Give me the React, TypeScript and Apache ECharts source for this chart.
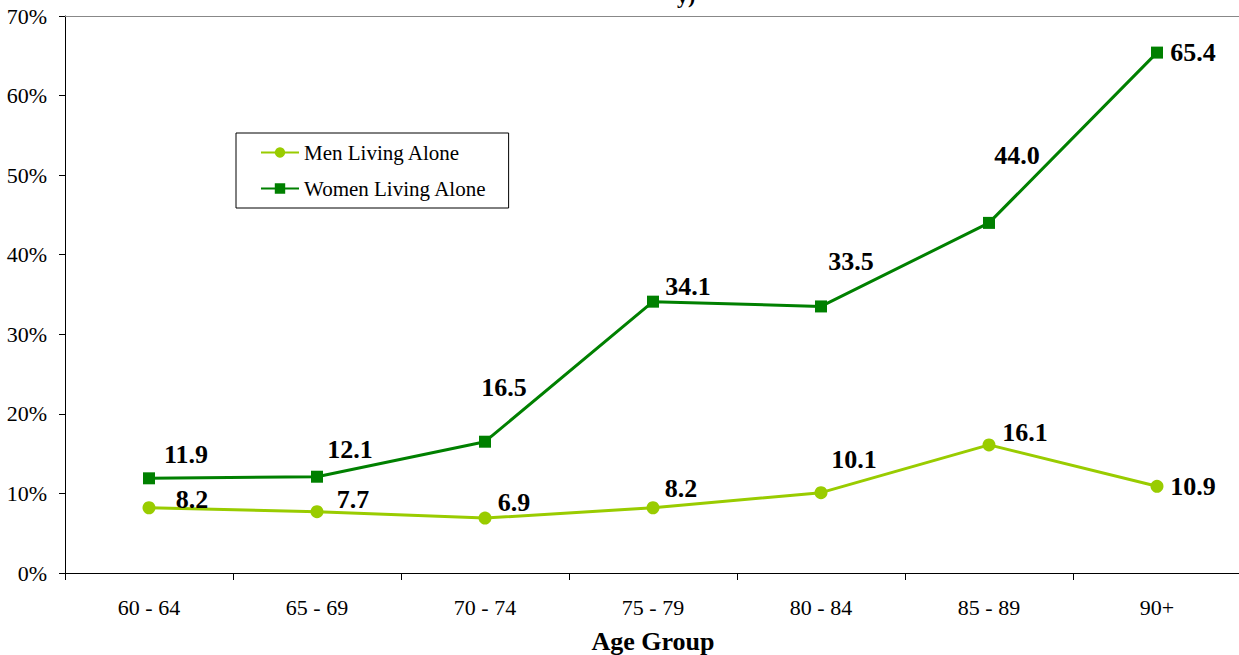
import React, { useEffect, useRef } from "react";
import * as echarts from "echarts";

const categories = ["60 - 64", "65 - 69", "70 - 74", "75 - 79", "80 - 84", "85 - 89", "90+"];
const menValues = [8.2, 7.7, 6.9, 8.2, 10.1, 16.1, 10.9];
const womenValues = [11.9, 12.1, 16.5, 34.1, 33.5, 44.0, 65.4];
const yTicksMax = 70;
const yTickStep = 10;

// label placement (style, not data): pixel offsets from each point
const menLabelOffsets = [[43, -8], [36, -12], [29, -16], [28, -19], [33, -33], [36, -12], [36, 0]];
const womenLabelOffsets = [[37, -24], [33, -27], [19, -54], [35, -15], [30, -45], [28, -67], [36, 0]];

const FONT = "'Liberation Serif', 'Times New Roman', serif";

export default function App() {
  const ref = useRef<HTMLDivElement>(null);
  useEffect(() => {
    if (!ref.current) return;
    const chart = echarts.init(ref.current, null, { renderer: "svg" });
    const labelStyle = {
      show: true,
      position: "inside",
      fontFamily: FONT,
      fontWeight: "bold",
      fontSize: 26,
      color: "#000",
      formatter: (p: any) => Number(p.value).toFixed(1),
    };
    const mk = (vals: number[], offs: number[][]) =>
      vals.map((v, i) => ({ value: v, label: { offset: offs[i] } }));
    chart.setOption({
      animation: false,
      backgroundColor: "#fff",
      textStyle: { fontFamily: FONT },
      grid: { left: 65, top: 16, width: 1176, height: 557, outerBoundsMode: "none", containLabel: false },
      legend: {
        orient: "vertical",
        left: 236,
        top: 133,
        padding: [9, 22, 9, 24],
        itemGap: 15,
        itemWidth: 38,
        itemHeight: 13,
        borderColor: "#000",
        borderWidth: 1,
        backgroundColor: "#fff",
        textStyle: { fontFamily: FONT, fontSize: 21, color: "#000" },
        data: ["Men Living Alone", "Women Living Alone"],
      },
      graphic: [
        {
          type: "text",
          left: 677,
          top: -16,
          style: { text: "y)", font: `bold 22px ${FONT}`, fill: "#000" },
        },
      ],
      xAxis: [
        {
          type: "category",
          data: categories,
          boundaryGap: true,
          axisLine: { lineStyle: { color: "#000", width: 1 } },
          axisTick: { show: true, length: 7, lineStyle: { color: "#000" } },
          axisLabel: { fontFamily: FONT, fontSize: 22, color: "#000", margin: 23 },
          name: "Age Group",
          nameLocation: "middle",
          nameGap: 55,
          nameTextStyle: { fontFamily: FONT, fontSize: 26, fontWeight: "bold", color: "#000" },
        },
        {
          type: "category",
          data: categories,
          position: "top",
          axisLine: { lineStyle: { color: "#888", width: 1 } },
          axisTick: { show: false },
          axisLabel: { show: false },
        },
      ],
      yAxis: {
        type: "value",
        min: 0,
        max: yTicksMax,
        interval: yTickStep,
        axisLine: { show: true, lineStyle: { color: "#000", width: 1 } },
        axisTick: { show: true, length: 6, lineStyle: { color: "#000" } },
        splitLine: { show: false },
        axisLabel: { fontFamily: FONT, fontSize: 22, color: "#000", margin: 18, formatter: "{value}%" },
      },
      series: [
        {
          name: "Men Living Alone",
          type: "line",
          data: mk(menValues, menLabelOffsets),
          symbol: "circle",
          symbolSize: 13,
          color: "#99CC00",
          itemStyle: { color: "#99CC00" },
          lineStyle: { color: "#99CC00", width: 3 },
          label: labelStyle,
          z: 3,
        },
        {
          name: "Women Living Alone",
          type: "line",
          data: mk(womenValues, womenLabelOffsets),
          symbol: "rect",
          symbolSize: 12,
          color: "#008000",
          itemStyle: { color: "#008000" },
          lineStyle: { color: "#008000", width: 3 },
          label: labelStyle,
          z: 4,
        },
      ],
    });
    return () => chart.dispose();
  }, []);
  return (
    <div
      ref={ref}
      style={{ position: "fixed", left: 0, top: 0, width: 1239, height: 655, background: "#fff" }}
    />
  );
}
